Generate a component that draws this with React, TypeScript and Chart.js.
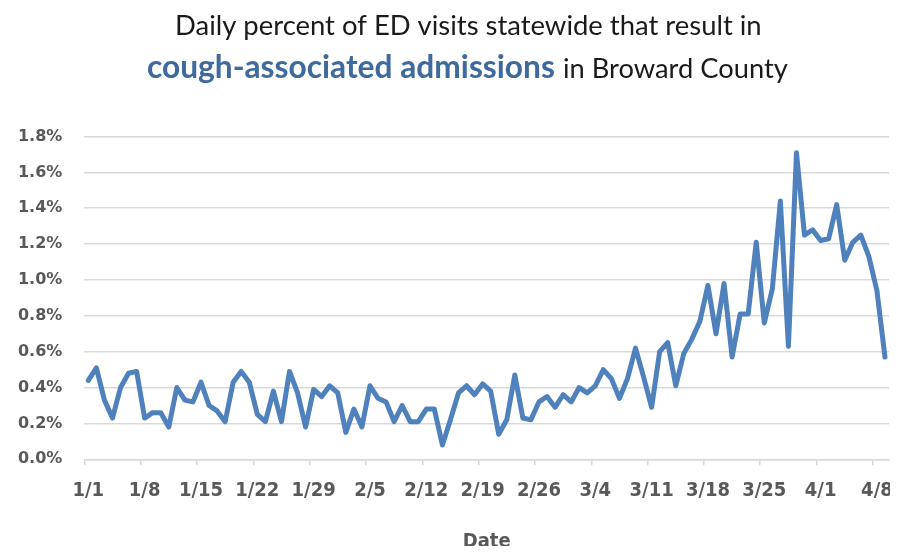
import React, { useEffect, useRef } from 'react';
import { Chart, registerables } from 'chart.js';

Chart.register(...registerables);

// ---------- data ----------
const START = { year: 2020, month: 0, day: 1 };
const DAY_COUNT = 100;
const categories: string[] = (() => {
  const out: string[] = [];
  for (let i = 0; i < DAY_COUNT; i++) {
    const d = new Date(START.year, START.month, START.day + i);
    out.push(`${d.getMonth() + 1}/${d.getDate()}`);
  }
  return out;
})();

const tickLabels = ['1/1', '1/8', '1/15', '1/22', '1/29', '2/5', '2/12', '2/19', '2/26', '3/4', '3/11', '3/18', '3/25', '4/1', '4/8'];

// percent of ED visits (1/1 .. 4/9)
const janValues = [
  0.44, 0.51, 0.33, 0.23, 0.40, 0.48, 0.49, 0.23, 0.26, 0.26,
  0.18, 0.40, 0.33, 0.32, 0.43, 0.30, 0.27, 0.21, 0.43, 0.49,
  0.43, 0.25, 0.21, 0.38, 0.21, 0.49, 0.37, 0.18, 0.39, 0.35,
  0.41,
];
const febValues = [
  0.37, 0.15, 0.28, 0.18, 0.41, 0.34, 0.32, 0.21, 0.30, 0.21,
  0.21, 0.28, 0.28, 0.08, 0.22, 0.37, 0.41, 0.36, 0.42, 0.38,
  0.14, 0.22, 0.47, 0.23, 0.22, 0.32, 0.35, 0.29, 0.36,
];
const marValues = [
  0.32, 0.40, 0.37, 0.41, 0.50, 0.45, 0.34, 0.45, 0.62, 0.46,
  0.29, 0.60, 0.65, 0.41, 0.59, 0.67, 0.77, 0.97, 0.70, 0.98,
  0.57, 0.81, 0.81, 1.21, 0.76, 0.95, 1.44, 0.63, 1.71, 1.25,
  1.28,
];
const aprValues = [1.22, 1.23, 1.42, 1.11, 1.21, 1.25, 1.13, 0.94, 0.57];
const seriesValues = [...janValues, ...febValues, ...marValues, ...aprValues];

const yMin = 0;
const yMax = 1.8;
const yStep = 0.2;

const titleLine1 = 'Daily percent of ED visits statewide that result in';
const titleBold = 'cough-associated admissions';
const titleRest = 'in Broward County';
const xAxisTitle = 'Date';

// ---------- styles ----------
const W = 882;
const H = 538;
const LINE_COLOR = '#4f81bd';
const GRID_COLOR = '#d9d9d9';
const LABEL_COLOR = '#595959';
const TITLE_COLOR = '#1a1a1a';
const TITLE_BLUE = '#3e6a9d';
const TITLE_FAMILY = "Lato, 'Noto Sans', sans-serif";
const X_FONT = "'DejaVu Sans Condensed', 'Liberation Sans Narrow', 'DejaVu Sans', sans-serif";

const titlePlugin = {
  id: 'mixedTitle',
  afterDraw(chart: any) {
    const ctx: CanvasRenderingContext2D = chart.ctx;
    ctx.save();
    ctx.textBaseline = 'alphabetic';
    ctx.textAlign = 'left';
    const fit = (text: string, weight: string, target: number) => {
      ctx.font = `${weight} 100px ${TITLE_FAMILY}`;
      const w = ctx.measureText(text).width;
      return (100 * target) / w;
    };
    // line 1
    const s1 = fit(titleLine1, 'normal', 587);
    ctx.font = `normal ${s1}px ${TITLE_FAMILY}`;
    ctx.fillStyle = TITLE_COLOR;
    ctx.fillText(titleLine1, 167, 27);
    // line 2
    const s2 = fit(titleBold, 'bold', 408);
    ctx.font = `bold ${s2}px ${TITLE_FAMILY}`;
    ctx.fillStyle = TITLE_BLUE;
    ctx.fillText(titleBold, 139, 70);
    const s3 = fit(titleRest, 'normal', 225);
    ctx.font = `normal ${s3}px ${TITLE_FAMILY}`;
    ctx.fillStyle = TITLE_COLOR;
    ctx.fillText(titleRest, 555, 70);
    ctx.restore();
  },
};

export default function App() {
  const canvasRef = useRef<HTMLCanvasElement | null>(null);

  useEffect(() => {
    if (!canvasRef.current) return;
    const tickSet = new Set(tickLabels);
    const chart = new Chart(canvasRef.current, {
      type: 'line',
      data: {
        labels: categories,
        datasets: [
          {
            data: seriesValues,
            borderColor: LINE_COLOR,
            backgroundColor: LINE_COLOR,
            borderWidth: 5,
            pointRadius: 0,
            tension: 0,
            borderJoinStyle: 'round',
            borderCapStyle: 'round',
            fill: false,
          },
        ],
      },
      options: {
        responsive: true,
        maintainAspectRatio: false,
        animation: false,
        layout: { padding: { top: 128.5, right: 1, bottom: 0, left: 0 } },
        plugins: {
          legend: { display: false },
          tooltip: { enabled: false },
          title: { display: false },
        },
        scales: {
          x: {
            type: 'category',
            offset: true,
            afterFit: (scale: any) => {
              scale.height = 86.7;
              scale.paddingLeft = 0;
              scale.paddingRight = 0;
            },
            grid: {
              offset: true,
              drawOnChartArea: false,
              drawTicks: true,
              tickLength: 6,
              lineWidth: 1.5,
              color: (ctx: any) => {
                const lab = categories[ctx.index];
                return lab !== undefined && tickSet.has(lab) ? GRID_COLOR : 'rgba(0,0,0,0)';
              },
            },
            border: { display: true, color: GRID_COLOR, width: 1.5 },
            ticks: {
              autoSkip: false,
              maxRotation: 0,
              minRotation: 0,
              padding: 13,
              color: LABEL_COLOR,
              font: { family: X_FONT, size: 20, weight: 'bold' },
              callback: (_v: any, idx: number) => (tickSet.has(categories[idx]) ? categories[idx] : ''),
            },
            title: {
              display: true,
              text: xAxisTitle,
              color: LABEL_COLOR,
              font: { family: X_FONT, size: 20, weight: 'bold', lineHeight: 1 },
              padding: { top: 0, bottom: -5.5 },
            },
          },
          y: {
            min: yMin,
            max: yMax,
            afterFit: (scale: any) => {
              scale.width = 76.3;
            },
            grid: {
              drawTicks: false,
              color: GRID_COLOR,
              lineWidth: 1.5,
            },
            border: { display: false },
            ticks: {
              stepSize: yStep,
              padding: 22,
              color: LABEL_COLOR,
              font: { family: "'DejaVu Sans', sans-serif", size: 16, weight: 'bold' },
              callback: (v: any) => `${Number(v).toFixed(1)}%`,
            },
          },
        },
      },
      plugins: [titlePlugin],
    } as any);
    return () => chart.destroy();
  }, []);

  return (
    <div style={{ position: 'relative', width: W, height: H }}>
      <canvas ref={canvasRef} />
    </div>
  );
}
